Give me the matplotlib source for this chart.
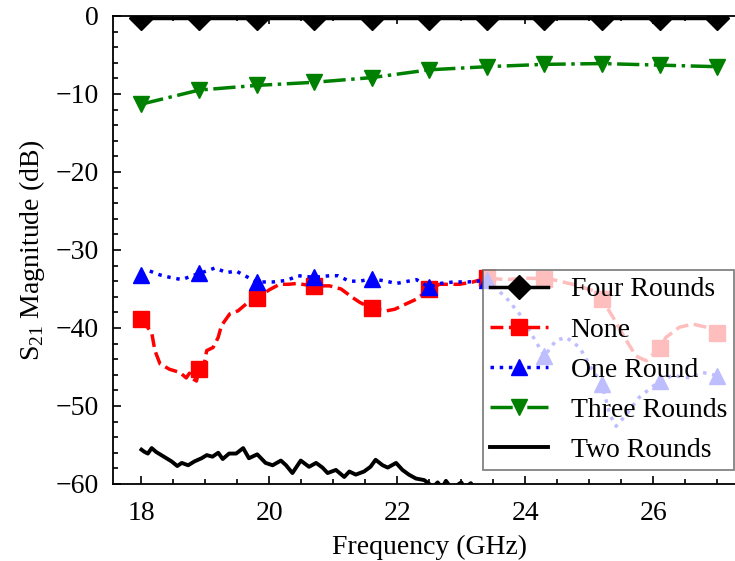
import numpy as np
import matplotlib
matplotlib.use("Agg")
import matplotlib.pyplot as plt

plt.rcParams['font.family'] = 'serif'
plt.rcParams['font.serif'] = ['Liberation Serif', 'DejaVu Serif']
plt.rcParams['mathtext.fontset'] = 'custom'
plt.rcParams['mathtext.rm'] = 'Liberation Serif'
plt.rcParams['font.size'] = 20

# marker frequencies (GHz)
mark_f = [18.0, 18.9, 19.8, 20.7, 21.6, 22.5, 23.4, 24.3, 25.2, 26.1, 27.0]

four_f = mark_f
four_db = [-0.3, -0.3, -0.3, -0.3, -0.3, -0.3, -0.3, -0.3, -0.3, -0.3, -0.3]

none_f = [18.0, 18.16, 18.21, 18.29, 18.44, 18.6, 18.7, 18.75, 18.8, 18.86, 18.9, 18.96,
          19.02, 19.12, 19.2, 19.25, 19.38, 19.51, 19.64, 19.8, 20.0, 20.16, 20.3, 20.42,
          20.7, 20.94, 21.12, 21.3, 21.41, 21.6, 21.83, 21.96, 22.14, 22.3, 22.5, 22.66,
          22.97, 23.18, 23.4, 23.7, 24.0, 24.3, 24.43, 24.74, 25.06, 25.2, 25.37, 25.58,
          25.73, 25.89, 26.1, 26.2, 26.41, 26.62, 26.83, 27.0]
none_db = [-38.9, -40.6, -42.9, -44.6, -45.3, -45.7, -46.4, -45.8, -46.5, -46.8, -45.3, -45.5,
           -42.9, -42.5, -41.2, -39.7, -38.2, -37.8, -36.9, -36.2, -35.1, -34.4, -34.4, -34.3,
           -34.6, -34.6, -35.0, -36.1, -36.7, -37.5, -37.8, -37.6, -36.9, -36.3, -35.0, -34.4,
           -34.4, -34.1, -33.6, -33.8, -33.6, -33.7, -33.8, -34.4, -35.2, -36.3, -38.6, -41.6,
           -43.6, -44.2, -42.6, -41.2, -39.9, -39.5, -39.9, -40.6]

one_f = [18.0, 18.13, 18.29, 18.44, 18.63, 18.73, 18.9, 19.02, 19.15, 19.33, 19.48, 19.64,
         19.8, 20.06, 20.27, 20.45, 20.7, 20.94, 21.07, 21.25, 21.41, 21.6, 21.83, 21.98,
         22.17, 22.3, 22.5, 22.66, 22.88, 23.1, 23.4, 23.7, 23.91, 24.07, 24.22, 24.3,
         24.48, 24.64, 24.85, 25.06, 25.2, 25.32, 25.42, 25.58, 25.78, 26.1, 26.3, 26.57,
         26.77, 27.0]
one_db = [-33.2, -32.7, -33.2, -33.5, -33.8, -33.5, -33.0, -32.7, -32.3, -32.9, -32.7, -33.4,
          -34.1, -34.1, -33.9, -33.3, -33.5, -33.3, -33.3, -34.0, -34.0, -33.7, -34.0, -34.3,
          -34.0, -33.8, -34.8, -34.3, -34.1, -34.1, -33.9, -36.1, -38.2, -40.4, -42.5, -43.6,
          -41.6, -41.2, -42.5, -45.5, -47.2, -51.1, -52.6, -51.1, -48.9, -46.8, -46.1, -46.4,
          -45.7, -46.1]

three_f = mark_f
three_db = [-11.3, -9.5, -8.9, -8.5, -7.9, -6.9, -6.5, -6.2, -6.1, -6.3, -6.5]

two_f = [18.0, 18.05, 18.1, 18.16, 18.23, 18.31, 18.39, 18.47, 18.56, 18.63, 18.73, 18.83,
         18.94, 19.02, 19.11, 19.2, 19.27, 19.37, 19.48, 19.59, 19.68, 19.81, 19.94, 20.05,
         20.18, 20.26, 20.36, 20.49, 20.62, 20.73, 20.83, 20.91, 21.04, 21.17, 21.25, 21.35,
         21.48, 21.58, 21.66, 21.77, 21.85, 21.98, 22.08, 22.18, 22.29, 22.42, 22.5, 22.56,
         22.63, 22.7, 22.76, 22.85, 23.0, 23.05, 23.15, 23.2, 23.3, 24.0, 25.0, 26.0, 27.0]
two_db = [-55.6, -55.9, -56.1, -55.4, -55.9, -56.3, -56.7, -57.1, -57.7, -57.3, -57.6, -57.1,
          -56.7, -56.3, -56.5, -56.0, -56.8, -56.1, -56.1, -55.4, -56.7, -56.2, -57.3, -57.6,
          -57.0, -57.6, -58.6, -57.0, -57.8, -57.3, -57.9, -58.6, -58.2, -59.1, -58.4, -58.8,
          -58.4, -57.8, -56.9, -57.6, -57.9, -57.3, -58.2, -58.8, -59.3, -59.5, -60.0, -60.4,
          -59.8, -60.5, -59.6, -60.6, -59.8, -60.5, -59.9, -60.6, -61.0, -61.5, -62.0, -62.0, -62.0]


def marks(f):
    return list(np.where(np.isin(np.round(f, 2), mark_f))[0])


fig = plt.figure(figsize=(7.35, 5.61), dpi=100)
ax = fig.add_axes([0.1533, 0.1373, 0.8616, 0.8342])

ax.plot(four_f, four_db, color='black', lw=2.5, marker='D', ms=12, label='Four Rounds')
ax.plot(none_f, none_db, color='red', lw=2.5, ls='--', marker='s', ms=12,
        markevery=marks(none_f), label='None')
ax.plot(one_f, one_db, color='blue', lw=2.5, ls=':', marker='^', ms=12,
        markevery=marks(one_f), label='One Round')
ax.plot(three_f, three_db, color='green', lw=2.5, ls='-.', marker='v', ms=12, label='Three Rounds')
ax.plot(two_f, two_db, color='black', lw=2.8, label='Two Rounds')

ax.set_ylim(-60, 0)
ax.set_xticks([18, 20, 22, 24, 26])
ax.set_yticks([0, -10, -20, -30, -40, -50, -60])
ax.xaxis.set_minor_locator(matplotlib.ticker.MultipleLocator(0.5))
ax.yaxis.set_minor_locator(matplotlib.ticker.MultipleLocator(2))
ax.tick_params(which='both', direction='in', top=True, right=True, width=1.2)
ax.tick_params(which='major', length=6)
ax.tick_params(which='minor', length=3.5)
ax.tick_params(axis='x', which='major', pad=12.5)
ax.tick_params(axis='y', which='major', pad=10)
for s in ax.spines.values():
    s.set_linewidth(1.3)

ax.set_xlabel('Frequency (GHz)', labelpad=6)
ax.set_ylabel('S$_{21}$ Magnitude (dB)', labelpad=6)

leg = ax.legend(loc='lower right', bbox_to_anchor=(734 / 735, 91 / 561),
                bbox_transform=fig.transFigure, borderaxespad=0, borderpad=0.25,
                handlelength=2.1, labelspacing=0.53,
                fancybox=False, framealpha=0.75, edgecolor='0.35')
leg.get_frame().set_linewidth(1.3)

fig.savefig('out.png', dpi=100)
